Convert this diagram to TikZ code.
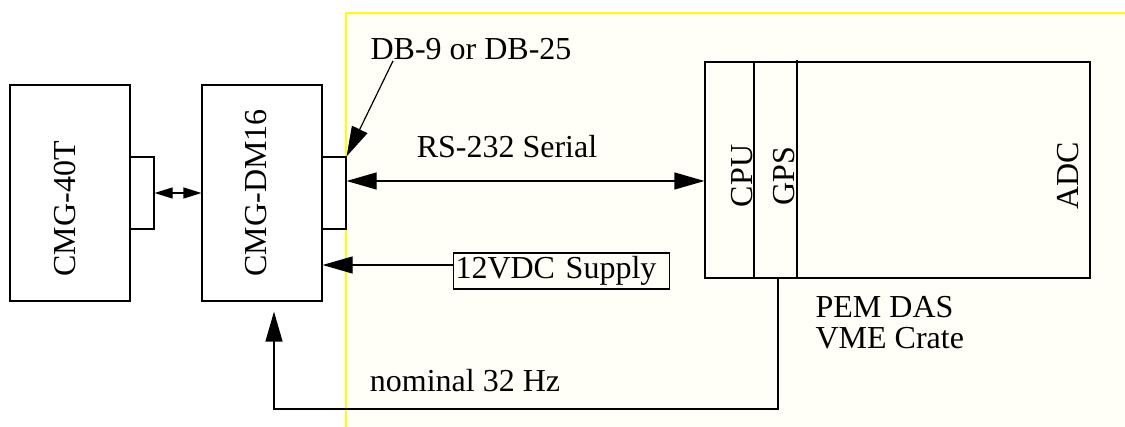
\documentclass[tikz,border=0pt]{standalone}
\usepackage{fontspec}
\setmainfont{Liberation Serif}
\usetikzlibrary{arrows.meta}
\definecolor{paper}{RGB}{255,255,247}
\definecolor{edge}{RGB}{255,255,0}
\begin{document}
\begin{tikzpicture}[x=0.5pt,y=-0.5pt,line width=0.6pt,
  font=\fontsize{16}{15.5}\selectfont,
  blk/.style={draw,minimum width=60pt,minimum height=108pt,inner sep=0pt},
  plug/.style={draw,minimum width=12pt,minimum height=36pt,inner sep=0pt},
  lbl/.style={inner sep=0pt},
  big/.style={-{Triangle[length=15pt,width=8.5pt]}},
  bigboth/.style={{Triangle[length=15pt,width=8.5pt]}-{Triangle[length=15pt,width=8.5pt]}},
  small/.style={{Triangle[length=9pt,width=5.5pt]}-{Triangle[length=9pt,width=5.5pt]}}]
\useasboundingbox (0,0) rectangle (1125,427);
\fill[paper] (346,13) rectangle (1125,427);
\draw[edge] (346,427) -- (346,13) -- (1125,13);
% seismometer and digitiser
\node[blk] (sensor) at (70,193) {};
\node[lbl,rotate=90,anchor=west] (sensortxt) at (65,277) {CMG-40T};
\node[plug] (plugA) at (142,193) {};
\node[blk] (dm) at (262,193) {};
\node[lbl,rotate=90,anchor=west] (dmtxt) at (256,277) {CMG-DM16};
\node[plug] (plugB) at (334,193) {};
\draw[small] (plugA) -- (dm);
% VME crate
\node[draw,minimum width=192.5pt,minimum height=108pt,inner sep=0pt] (crate) at (897.5,170) {};
\draw (754,62) -- (754,278); \draw (797,60) -- (797,278);
\node[lbl,rotate=90] (cpu) at (742,176) {CPU};
\node[lbl,rotate=90] (gps) at (784,176) {GPS};
\node[lbl,rotate=90] (adc) at (1068,176) {ADC};
\node[lbl,anchor=north west,align=left] (pem) at (815,296) {PEM DAS\\VME Crate};
% links
\node[lbl,anchor=base west] (db) at (370,60) {DB-9 or DB-25};
\draw[big] ([xshift=11.5pt]db.south west) -- (plugB.north east);
\node[lbl] (rs) at (507,147) {RS-232 Serial};
\draw[bigboth] ([yshift=6pt]plugB.east) -- ([yshift=6pt]plugB.east -| crate.west);
\node[draw,text width=106pt,inner xsep=1pt,inner ysep=0pt,minimum height=18pt,align=left] (supply) at (561.5,271) {12VDC Supply};
\draw[big] ([yshift=3pt]supply.west) -- ([yshift=3pt]supply.west -| dm.east);
\coordinate (gpsout) at (778,278);
\coordinate (ret) at (274,409);
\draw[big,shorten >=5pt] (gpsout) |- (ret) -- (ret |- dm.south);
\node[lbl] (nom) at (465,381) {nominal 32 Hz};
\end{tikzpicture}
\end{document}
